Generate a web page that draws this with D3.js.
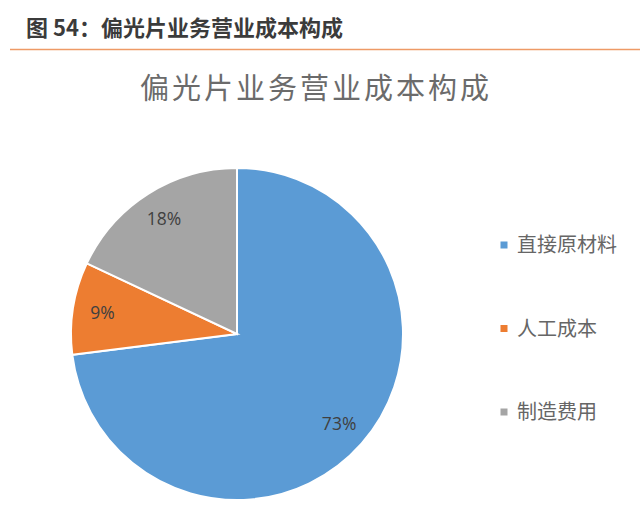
<!DOCTYPE html>
<html>
<head>
<meta charset="utf-8">
<script src="https://cdn.jsdelivr.net/npm/d3@7"></script>
<style>
  body { margin: 0; background: #fff; }
  svg { display: block; font-family: "Noto Sans CJK SC", "Noto Sans", sans-serif; }
</style>
</head>
<body>
<div id="chart"></div>
<script>
'use strict';

// data
var categories = ['直接原材料', '人工成本', '制造费用'];
var shares = [73, 9, 18];
var colors = ['#5B9BD5', '#ED7D31', '#A5A5A5'];
var figureTitle = '图 54：偏光片业务营业成本构成';
var chartTitle = '偏光片业务营业成本构成';

var W = 640, H = 516;
var cx = 237, cy = 334, R = 166;

var svg = d3.select('#chart').append('svg')
  .attr('width', W)
  .attr('height', H);

// header and rule
svg.append('text')
  .attr('x', 26)
  .attr('y', 36)
  .style('font-size', '22px')
  .style('font-weight', 'bold')
  .style('fill', '#3b3b3b')
  .text(figureTitle);

svg.append('line')
  .attr('x1', 10).attr('x2', W)
  .attr('y1', 49.5).attr('y2', 49.5)
  .style('stroke', '#EE9A66')
  .style('stroke-width', 1.5);

// chart title
svg.append('text')
  .attr('x', 316)
  .attr('y', 99)
  .attr('text-anchor', 'middle')
  .style('font-size', '29px')
  .style('letter-spacing', '3px')
  .style('fill', '#6b6b6b')
  .text(chartTitle);

var data = categories.map(function(c, i) {
  return {name: c, value: shares[i], color: colors[i]};
});

var pie = d3.pie()
  .sort(null)
  .value(function(d) { return d.value; });

var arc = d3.arc().innerRadius(0).outerRadius(R);
var labelArc = d3.arc().innerRadius(R * 0.82).outerRadius(R * 0.82);

var g = svg.append('g').attr('transform', 'translate(' + cx + ',' + cy + ')');
var arcs = pie(data);

g.selectAll('path.slice')
  .data(arcs)
  .enter()
  .append('path')
  .attr('class', 'slice')
  .attr('d', arc)
  .style('fill', function(d) { return d.data.color; })
  .style('stroke', '#fff')
  .style('stroke-width', 2);

g.selectAll('text.pct')
  .data(arcs)
  .enter()
  .append('text')
  .attr('class', 'pct')
  .attr('transform', function(d) { return 'translate(' + labelArc.centroid(d) + ')'; })
  .attr('text-anchor', 'middle')
  .attr('dy', '0.35em')
  .style('font-family', '"Open Sans", sans-serif')
  .style('font-size', '17.5px')
  .style('fill', '#404040')
  .text(function(d) { return d.data.value + '%'; });

// legend
var legendY = d3.scalePoint()
  .domain(categories)
  .range([245, 412]);

var legend = svg.append('g')
  .selectAll('g')
  .data(data)
  .enter()
  .append('g')
  .attr('transform', function(d) { return 'translate(504,' + legendY(d.name) + ')'; });

legend.append('rect')
  .attr('x', -3.5).attr('y', -3.5)
  .attr('width', 7).attr('height', 7)
  .style('fill', function(d) { return d.color; });

legend.append('text')
  .attr('x', 13)
  .attr('dy', '0.36em')
  .style('font-size', '20px')
  .style('fill', '#666')
  .text(function(d) { return d.name; });
</script>
</body>
</html>
